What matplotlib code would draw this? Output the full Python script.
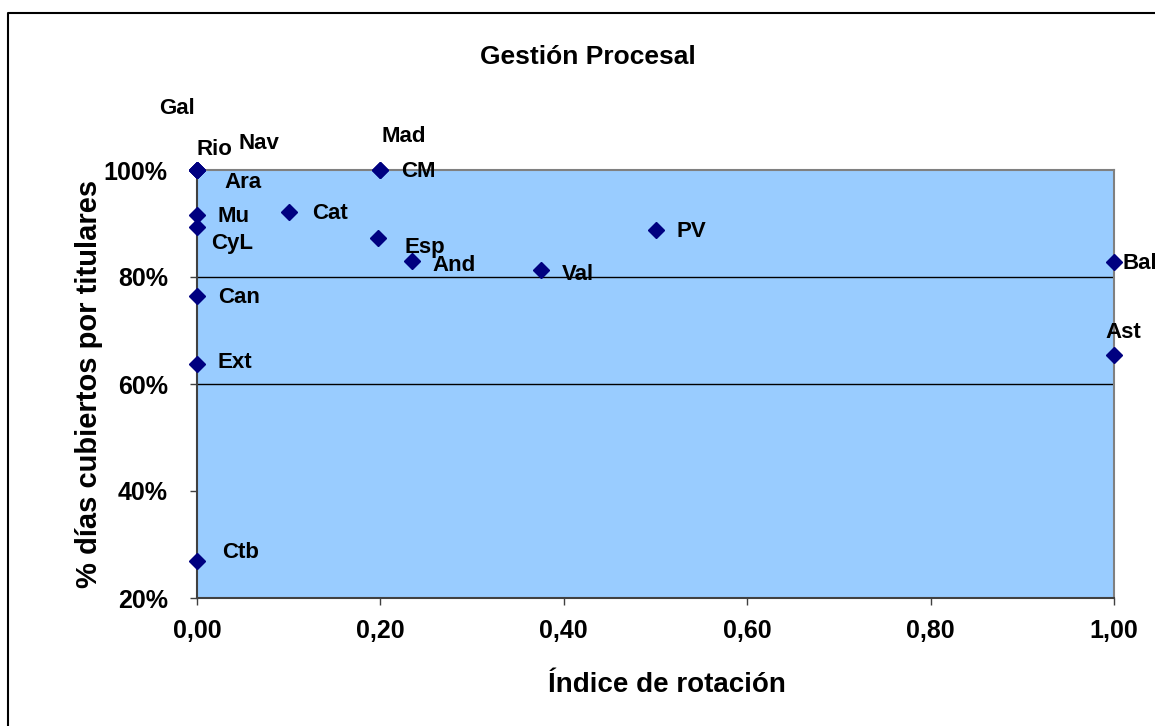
import matplotlib
matplotlib.use("Agg")
import matplotlib.pyplot as plt
from matplotlib.lines import Line2D
from matplotlib.ticker import FuncFormatter

plt.rcParams['font.family'] = ['Liberation Sans', 'DejaVu Sans']
plt.rcParams['font.weight'] = 'bold'

# Data
regions = ["Gal", "Rio", "Nav", "Ara", "Mad", "CM", "Mu", "CyL", "Cat", "Esp",
           "And", "Val", "PV", "Bal", "Ast", "Can", "Ext", "Ctb"]
rotation = [0.00, 0.00, 0.00, 0.00, 0.20, 0.20, 0.00, 0.00, 0.10, 0.197,
            0.235, 0.375, 0.50, 1.00, 1.00, 0.00, 0.00, 0.00]
covered = [1.00, 1.00, 1.00, 1.00, 1.00, 1.00, 0.916, 0.893, 0.921, 0.873,
           0.830, 0.813, 0.888, 0.828, 0.654, 0.764, 0.637, 0.269]

x_ticks = [0.0, 0.2, 0.4, 0.6, 0.8, 1.0]
y_ticks = [0.2, 0.4, 0.6, 0.8, 1.0]
grid_levels = [0.6, 0.8]

# label offsets (points) as placed in the original chart
label_offsets = {
    "Gal": (-27, 44), "Rio": (0, 15), "Nav": (30, 19), "Ara": (20, -9),
    "Mad": (1, 24), "CM": (15, -1), "Mu": (15, -1), "CyL": (10, -12),
    "Cat": (17, -1), "Esp": (19, -7), "And": (14, -3), "Val": (15, -3),
    "PV": (15, -1), "Bal": (6, -1), "Ast": (-6, 16), "Can": (15, -1),
    "Ext": (15, 1), "Ctb": (18, 6),
}

fig = plt.figure(figsize=(11.55, 7.26), dpi=100)
ax = fig.add_axes([197 / 1155, 1 - 598 / 726, 917 / 1155, 428 / 726])
ax.set_facecolor('#99CCFF')

for g in grid_levels:
    ax.axhline(g, color='black', lw=1.0, zorder=1)

ax.plot(rotation, covered, linestyle='none', marker='D', ms=8,
        color='#000080', clip_on=False, zorder=3)

for name, xv, yv in zip(regions, rotation, covered):
    dx, dy = label_offsets[name]
    ax.annotate(name, (xv, yv), xytext=(dx, dy), textcoords='offset points',
                ha='left', va='center', fontsize=16, fontweight='bold',
                annotation_clip=False, zorder=4)

ax.set_xlim(0, 1)
ax.set_ylim(0.2, 1.0)
ax.set_xticks(x_ticks)
ax.set_yticks(y_ticks)
ax.xaxis.set_major_formatter(FuncFormatter(lambda v, p: f"{v:.2f}".replace('.', ',')))
ax.yaxis.set_major_formatter(FuncFormatter(lambda v, p: f"{v * 100:.0f}%"))
ax.tick_params(axis='x', direction='out', length=5, width=1, color='#404040',
               labelsize=18, pad=10)
ax.tick_params(axis='y', direction='out', length=5, width=1, color='#404040',
               labelsize=18, pad=16)

for side in ['left', 'bottom']:
    ax.spines[side].set_color('#404040')
    ax.spines[side].set_linewidth(1.5)
for side in ['top', 'right']:
    ax.spines[side].set_color('#808080')
    ax.spines[side].set_linewidth(1.5)

ax.set_xlabel("Índice de rotación", fontsize=20, fontweight='bold')
ax.xaxis.set_label_coords((667 - 197) / 917, -0.172)
ax.set_ylabel("% días cubiertos por titulares", fontsize=21, fontweight='bold')
ax.yaxis.set_label_coords(-0.103, 0.5)

fig.text(588 / 1155, 1 - 57 / 726, "Gestión Procesal", ha='center', va='center',
         fontsize=19, fontweight='bold')

# outer chart frame
fig.add_artist(Line2D([8 / 1155, 8 / 1155, 1], [0, 1 - 13 / 726, 1 - 13 / 726],
                      transform=fig.transFigure, color='black', lw=1.5))

fig.savefig("out.png", dpi=100)
